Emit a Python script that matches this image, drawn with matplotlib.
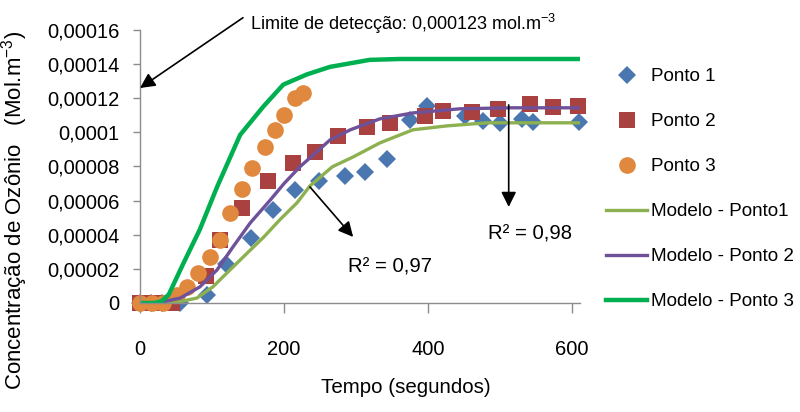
import numpy as np
import matplotlib
matplotlib.use("Agg")
import matplotlib.pyplot as plt
from matplotlib.ticker import FixedLocator, FuncFormatter

plt.rcParams["font.family"] = ["Liberation Sans", "DejaVu Sans"]
plt.rcParams["mathtext.default"] = "regular"

# measured points (tempo em s, concentração em mol.m-3)
t_p1 = [0, 15, 30, 55, 93, 120, 154, 185, 215, 249, 285, 313, 343, 375, 399,
        451, 476, 500, 530, 546, 610]
c_p1 = [0, 0, 0, 0, 4.7e-6, 2.3e-5, 3.8e-5, 5.45e-5, 6.6e-5, 7.15e-5, 7.45e-5,
        7.7e-5, 8.45e-5, 1.075e-4, 1.155e-4, 1.095e-4, 1.065e-4, 1.056e-4,
        1.08e-4, 1.06e-4, 1.06e-4]

t_p2 = [0, 15, 30, 45, 92, 111, 142, 178, 212, 243, 275, 315, 347, 396, 421,
        461, 497, 542, 574, 608]
c_p2 = [0, 0, 0, 0, 1.6e-5, 3.7e-5, 5.57e-5, 7.16e-5, 8.2e-5, 8.86e-5, 9.8e-5,
        1.03e-4, 1.056e-4, 1.097e-4, 1.126e-4, 1.12e-4, 1.138e-4, 1.167e-4,
        1.15e-4, 1.155e-4]

t_p3 = [0, 16, 32, 51, 65, 81, 97, 111, 125, 142, 156, 174, 188, 200, 215, 226]
c_p3 = [0, 0, 0, 4.7e-6, 9.4e-6, 1.76e-5, 2.7e-5, 3.7e-5, 5.3e-5, 6.7e-5,
        7.9e-5, 9.15e-5, 1.015e-4, 1.10e-4, 1.20e-4, 1.23e-4]

# model curves
t_m1 = [0, 47, 79, 101, 125, 149, 172, 194, 218, 236, 267, 296, 333, 379, 426,
        482, 611]
c_m1 = [0, 0, 2.9e-6, 9.4e-6, 1.94e-5, 2.93e-5, 3.87e-5, 4.87e-5, 5.87e-5,
        6.86e-5, 7.98e-5, 8.56e-5, 9.38e-5, 1.015e-4, 1.038e-4, 1.056e-4, 1.056e-4]

t_m2 = [0, 24, 56, 83, 107, 129, 153, 181, 200, 222, 264, 292, 333, 379, 444,
        514, 611]
c_m2 = [0, 0, 2.9e-6, 9.4e-6, 1.94e-5, 3.28e-5, 4.69e-5, 6.04e-5, 7.0e-5,
        7.98e-5, 9.56e-5, 1.015e-4, 1.079e-4, 1.114e-4, 1.138e-4, 1.144e-4, 1.144e-4]

t_m3 = [0, 20, 30, 40, 60, 83, 107, 139, 171, 199, 232, 264, 319, 361, 450, 611]
c_m3 = [0, 0, 1e-6, 5e-6, 2.3e-5, 4.3e-5, 6.8e-5, 9.85e-5, 1.15e-4, 1.28e-4,
        1.34e-4, 1.384e-4, 1.425e-4, 1.43e-4, 1.43e-4, 1.43e-4]

x_ticks = [0, 200, 400, 600]
y_ticks = [0, 2e-5, 4e-5, 6e-5, 8e-5, 1e-4, 1.2e-4, 1.4e-4, 1.6e-4]

C_P1, C_P2, C_P3 = "#4A77AF", "#A8413F", "#E0883D"
C_M1, C_M2, C_M3 = "#8DB050", "#6E5199", "#00B050"
GREY = "#8C8C8C"


def comma_fmt(v, _pos):
    if abs(v) < 1e-12:
        return "0"
    s = f"{v:.5f}".rstrip("0").rstrip(".")
    return s.replace(".", ",")


fig = plt.figure(figsize=(8, 4.12), dpi=100)
ax = fig.add_axes([0.175, 0.2646, 0.55, 0.6626])

ax.plot(t_p1, c_p1, "D", color=C_P1, ms=9, mew=0, clip_on=False, label="Ponto 1")
ax.plot(t_p2, c_p2, "s", color=C_P2, ms=11, mew=0, clip_on=False, label="Ponto 2")
ax.plot(t_p3, c_p3, "o", color=C_P3, ms=12, mew=0, clip_on=False, label="Ponto 3")
ax.plot(t_m1, c_m1, "-", color=C_M1, lw=2.4, label="Modelo - Ponto1")
ax.plot(t_m2, c_m2, "-", color=C_M2, lw=2.4, label="Modelo - Ponto 2")
ax.plot(t_m3, c_m3, "-", color=C_M3, lw=3.2, label="Modelo - Ponto 3")

ax.set_xlim(0, 611)
ax.set_ylim(0, 1.6e-4)
ax.xaxis.set_major_locator(FixedLocator(x_ticks))
ax.yaxis.set_major_locator(FixedLocator(y_ticks))
ax.yaxis.set_major_formatter(FuncFormatter(comma_fmt))

for side in ("top", "right"):
    ax.spines[side].set_visible(False)
for side in ("left", "bottom"):
    ax.spines[side].set_color(GREY)
    ax.spines[side].set_linewidth(1.0)
ax.tick_params(axis="x", colors=GREY, length=7, width=1.0, pad=20,
               labelsize=14.5, labelcolor="black")
ax.tick_params(axis="y", colors=GREY, length=5, width=1.0, pad=10,
               labelsize=14.5, labelcolor="black")

ax.set_xlabel("Tempo (segundos)", fontsize=14.8)
ax.xaxis.set_label_coords(0.605, -0.275)
ax.set_ylabel("Concentração de Ozônio   (Mol.m$^{-3}$)", fontsize=16.0)
ax.yaxis.set_label_coords(-0.25, 0.34)

arrow = dict(arrowstyle="-|>,head_length=0.6,head_width=0.3", color="black",
             lw=1.2, mutation_scale=15, shrinkA=0, shrinkB=0)

ax.annotate("", xy=(0, 1.26e-4), xytext=(143, 1.672e-4),
            arrowprops=arrow, annotation_clip=False)
ax.text(153, 1.6e-4, "Limite de detecção: 0,000123 mol.m$^{-3}$", fontsize=13.0,
        ha="left", va="baseline", clip_on=False)

ax.annotate("", xy=(296, 3.87e-5), xytext=(236, 6.8e-5), arrowprops=arrow)
ax.text(289, 1.76e-5, "R² = 0,97", fontsize=14.6, ha="left", va="baseline")

ax.annotate("", xy=(512, 5.63e-5), xytext=(512, 1.161e-4), arrowprops=arrow)
ax.text(483, 3.7e-5, "R² = 0,98", fontsize=14.6, ha="left", va="baseline")

fig.legend(loc="upper left", bbox_to_anchor=(0.758, 0.835), frameon=False,
           borderpad=0, borderaxespad=0, fontsize=13.6, handlelength=2.17,
           handletextpad=0.2, labelspacing=1.47, markerscale=1.0)

fig.savefig("out.png", dpi=100)
